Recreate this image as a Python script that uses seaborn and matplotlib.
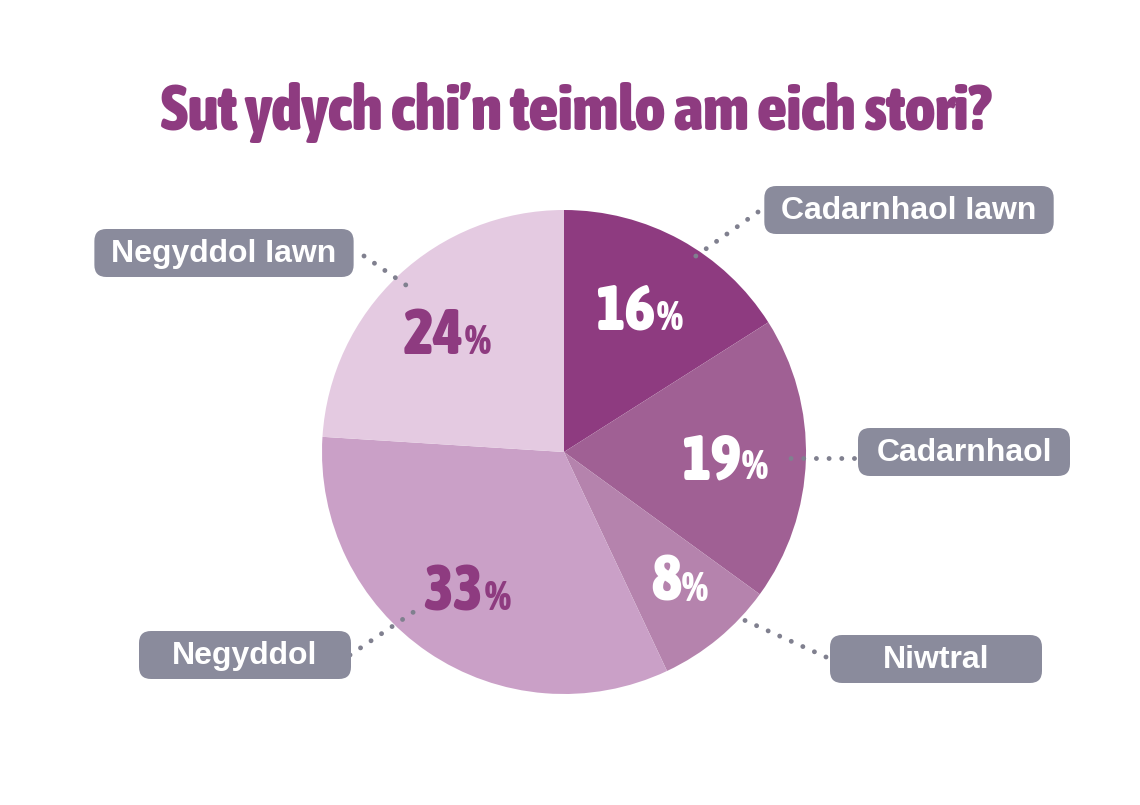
import os
import numpy as np
import matplotlib
matplotlib.use("Agg")
import matplotlib.pyplot as plt
import seaborn as sns
from matplotlib import font_manager
from matplotlib.font_manager import FontProperties
from matplotlib.patches import FancyBboxPatch

sns.set_theme(style="white")
plt.rcParams['font.family'] = ['Liberation Sans', 'DejaVu Sans']

# data
categories = ['Cadarnhaol Iawn', 'Cadarnhaol', 'Niwtral', 'Negyddol', 'Negyddol Iawn']
shares = [16, 19, 8, 33, 24]
slice_colors = ['#8e3b80', '#a06094', '#b583ad', '#caa0c7', '#e4cae1']
pct_colors = ['white', 'white', 'white', '#8e3b80', '#8e3b80']
title = 'Sut ydych chi\u2019n teimlo am eich stori?'

W, H = 1140, 805
TITLE_PURPLE = '#8e3b80'
BOX_GREY = '#8a8b9c'
DOT_GREY = '#80808f'

# label boxes (pixel centres) and leader lines (pixel, box end -> pie end)
box_pos = [(909, 210), (964, 452), (936, 659), (245, 655), (224, 253)]
leaders = [((758, 212), (686, 263)),
           ((854, 458), (780, 458)),
           ((826, 657), (744, 620)),
           ((350, 655), (418, 609)),
           ((364, 256), (416, 292))]

CX, CY, R = 564, 452, 242


def fy(y):
    return H - y


def condensed_bold():
    # look for a narrow / condensed heavy face, like the poster font
    cands = []
    for f in font_manager.fontManager.ttflist:
        nm = (f.name + ' ' + os.path.basename(f.fname)).lower()
        narrow = ('condensed' in nm or 'narrow' in nm or 'compressed' in nm
                  or f.stretch in ('condensed', 'semi-condensed', 'extra-condensed', 'ultra-condensed'))
        w = f.weight if isinstance(f.weight, int) else font_manager.weight_dict.get(f.weight, 400)
        if narrow and 'semi' not in nm and w >= 600:
            cands.append((-w, f.fname))
    if cands:
        cands.sort()
        return FontProperties(fname=cands[0][1])
    return FontProperties(family='DejaVu Sans', weight='bold')


COND = condensed_bold()

fig = plt.figure(figsize=(W / 100, H / 100), dpi=100)
ax = fig.add_axes([0, 0, 1, 1])
renderer = fig.canvas.get_renderer()

wedges, _ = ax.pie(shares, colors=slice_colors, startangle=90, counterclock=False,
                   center=(CX, fy(CY)), radius=R, wedgeprops=dict(linewidth=0))
ax.set_xlim(0, W)
ax.set_ylim(0, H)
ax.set_aspect('equal')
ax.axis('off')

# title, shrunk to the reference width if the face is too wide
tp = COND.copy()
tp.set_size(48)
t = ax.text(576, fy(130), title, ha='center', va='baseline', fontproperties=tp, color=TITLE_PURPLE)
tw = t.get_window_extent(renderer).width
if tw > 830:
    tp.set_size(48 * 830 / tw)
    t.set_fontproperties(tp)

big = COND.copy()
big.set_size(46)
small = COND.copy()
small.set_size(30)
for w, v, c in zip(wedges, shares, pct_colors):
    mid = np.deg2rad((w.theta1 + w.theta2) / 2)
    px = CX + 0.68 * R * np.cos(mid)
    py = fy(CY) + 0.68 * R * np.sin(mid)
    ax.text(px + 12, py - 22, str(v), ha='right', va='baseline', fontproperties=big, color=c)
    ax.text(px + 13, py - 22, '%', ha='left', va='baseline', fontproperties=small, color=c)

for (x0, y0), (x1, y1) in leaders:
    ax.plot([x0, x1], [fy(y0), fy(y1)], color=DOT_GREY, lw=3.5,
            linestyle=(0, (0.01, 2.6)), dash_capstyle='round', zorder=3)

inv = ax.transData.inverted()
for name, (bx, by) in zip(categories, box_pos):
    txt = ax.text(bx, fy(by) - 1, name, ha='center', va='center', fontsize=23, fontweight='bold',
                  color='white', zorder=5)
    bb = txt.get_window_extent(renderer)
    (x0, y0), (x1, y1) = inv.transform([(bb.x0, bb.y0), (bb.x1, bb.y1)])
    bw = max(x1 - x0 + 34, 212)
    ax.add_patch(FancyBboxPatch((bx - bw / 2, fy(by) - 24), bw, 48,
                                boxstyle='round,pad=0,rounding_size=12',
                                fc=BOX_GREY, ec='none', zorder=4))

fig.savefig('out.png', dpi=100, facecolor='white')
